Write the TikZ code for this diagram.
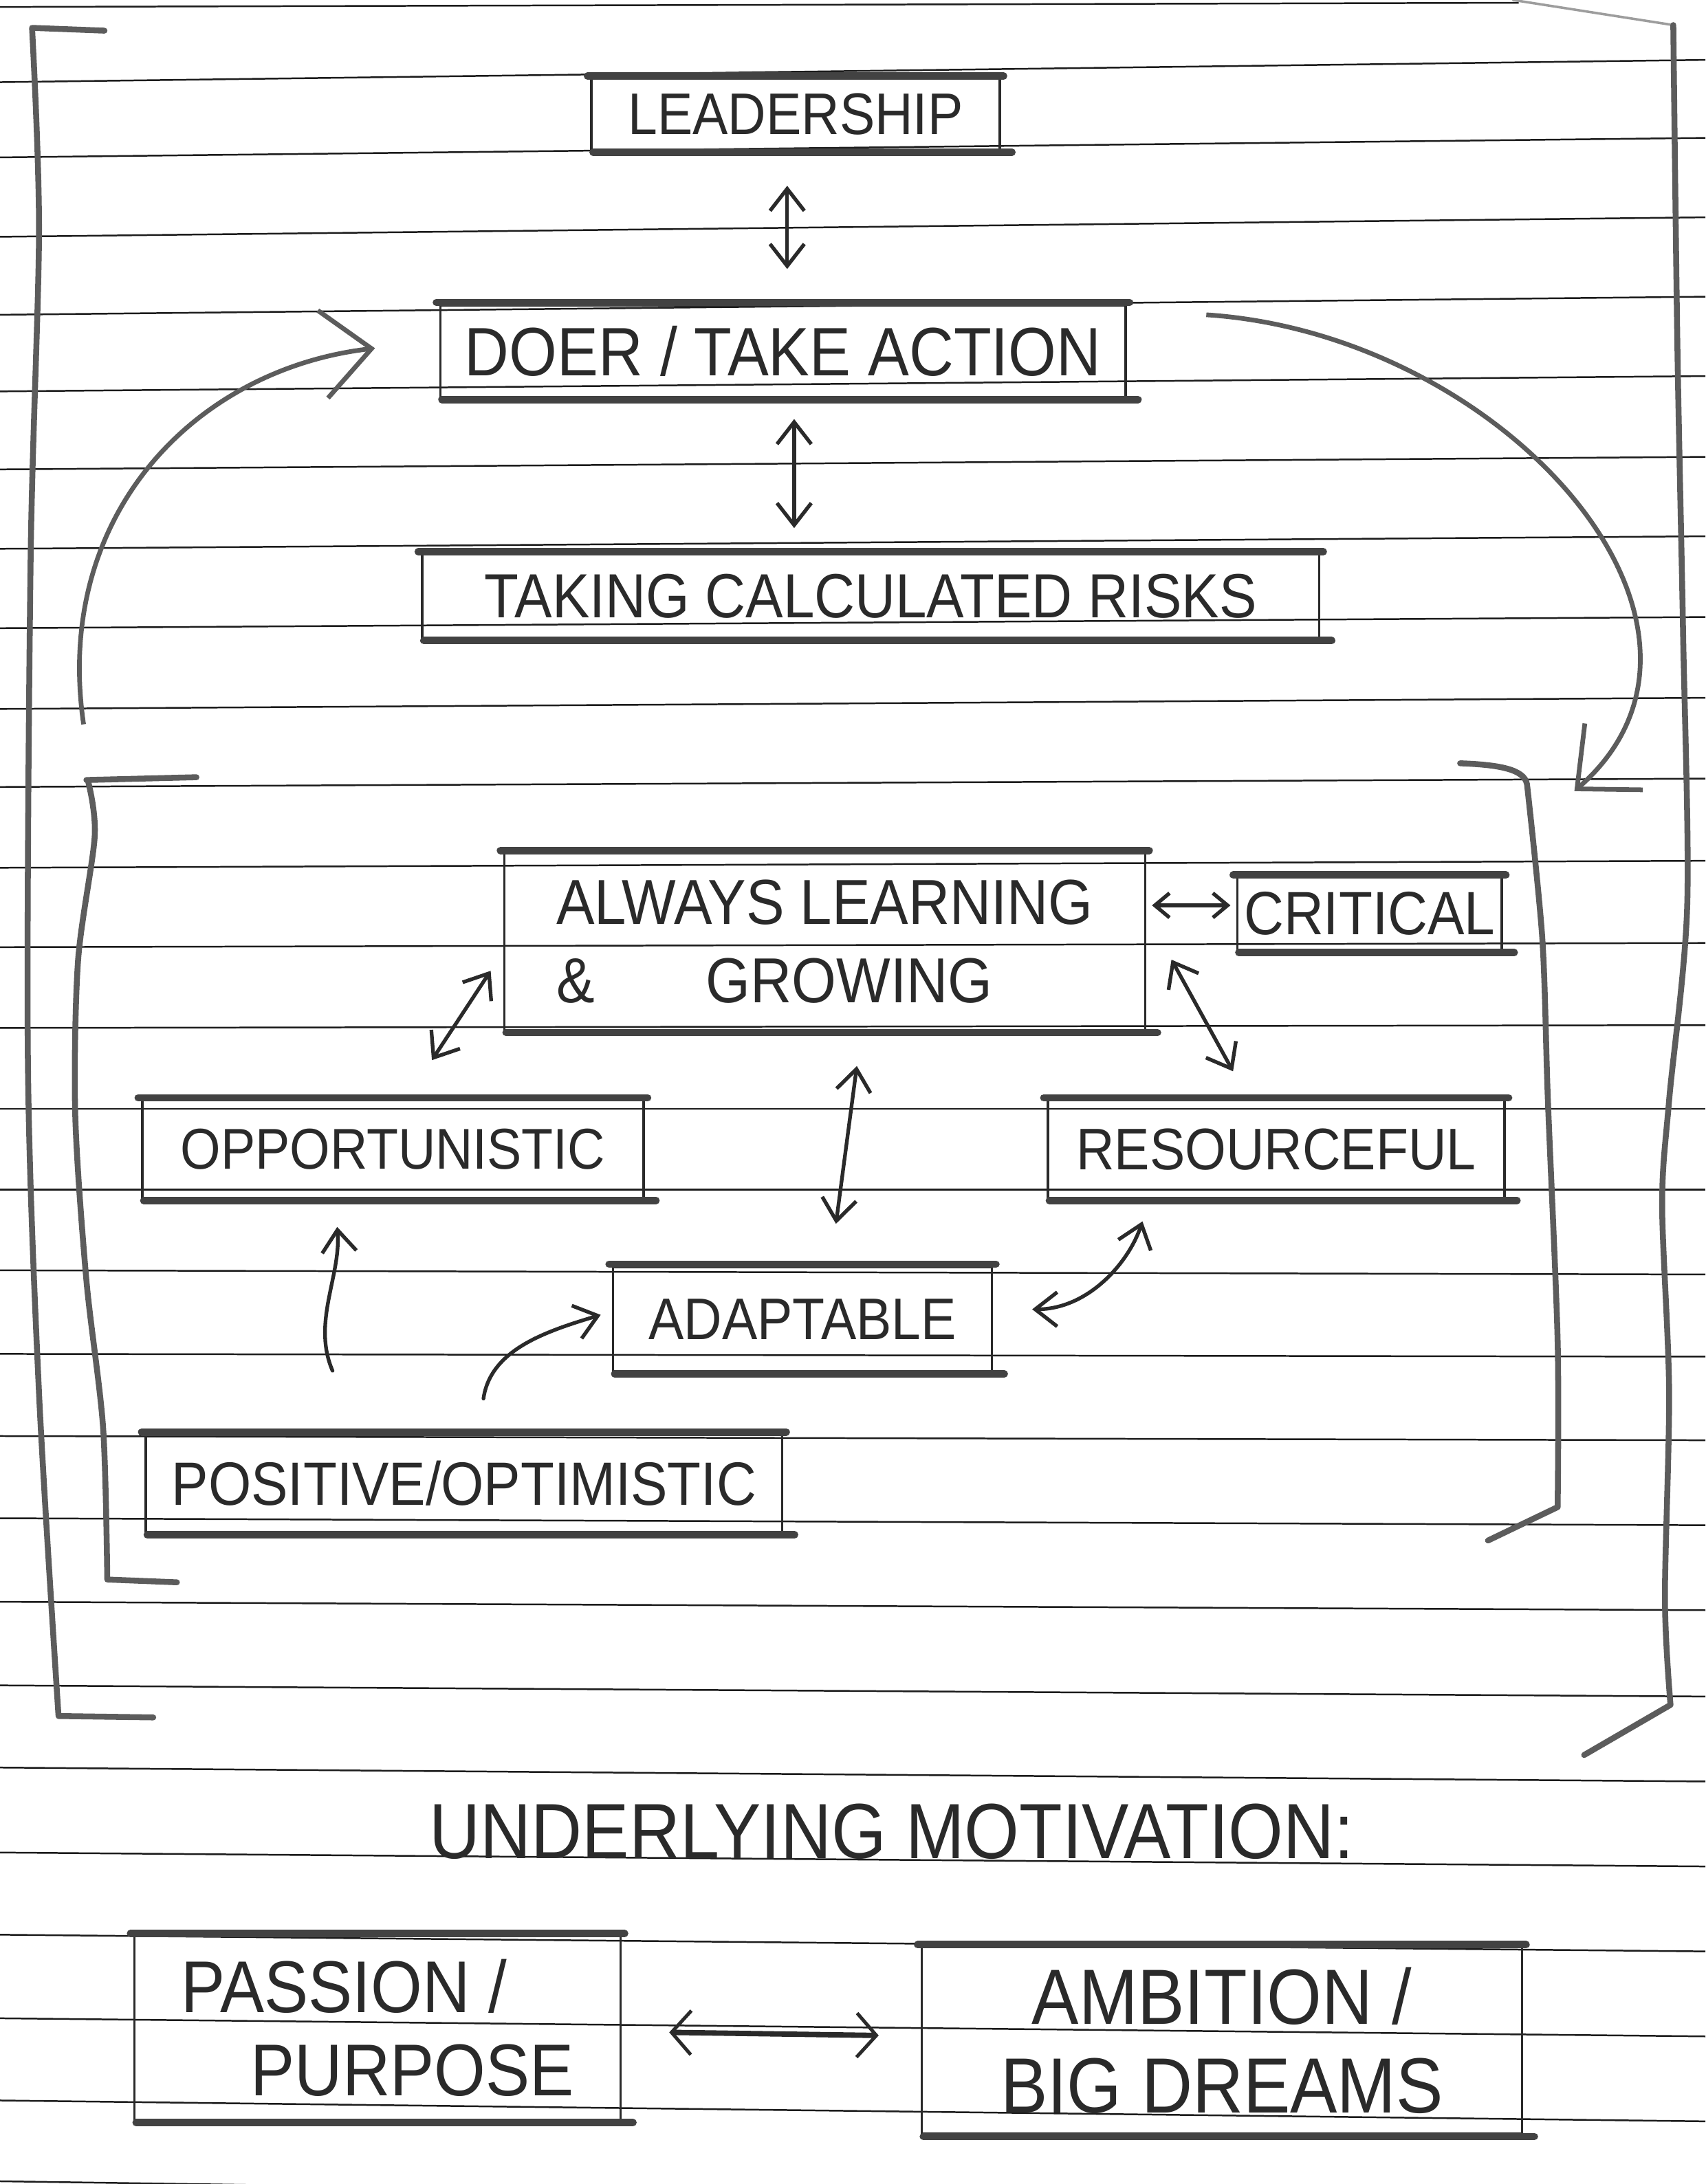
\documentclass[tikz,border=0pt]{standalone}
\usepackage{fontspec}
\setmainfont{Liberation Sans}[FakeStretch=0.9]
\usetikzlibrary{arrows.meta,calc}
\definecolor{ink}{HTML}{2A2A2A}
\definecolor{marker}{HTML}{424242}
\definecolor{pencil}{HTML}{5C5C5C}
\definecolor{rulecol}{HTML}{1C1C1C}
\newcommand{\handsize}[2]{\fontsize{#1}{#2}\selectfont}
\tikzset{
  ruling/.style={draw=rulecol, line width=0.7pt},
  card/.style={draw=ink, line width=1pt, text=ink, inner sep=0pt},
  thickedge/.style={draw=marker, line width=3pt, line cap=round},
  bracket/.style={draw=pencil, line width=2.4pt, line cap=round, line join=round},
  link/.style={draw=ink, line width=1.5pt, line cap=round},
  bigtip/.style={draw=pencil, line width=1.9pt, -{Straight Barb[length=20pt,width=36pt]}},
  smalltip/.style={{Straight Barb[length=6pt,width=10pt]}-{Straight Barb[length=6pt,width=10pt]}}
}
\begin{document}
\begin{tikzpicture}[x=0.02cm, y=-0.02cm, >={Straight Barb[length=9pt,width=14pt]}]
        \fill[white] (0,0) rectangle (1224,1568);
        \useasboundingbox (0,0) rectangle (1224,1568);
        % ruled paper
        \draw[ruling] (0,5) -- (1090,2);
        \foreach \yl/\yr in {59/43, 113/99, 170/156, 226/213, 281/270, 337/328, 394/385, 451/443,
            509/501, 565/559, 623/618, 680/677, 738/736, 796/796, 854/854, 912/915, 972/974,
            1031/1034, 1090/1095, 1150/1156, 1210/1218, 1269/1279, 1330/1340, 1389/1401,
            1449/1462, 1508/1523, 1566/1584}
            \draw[ruling] (0,\yl) -- (1224,\yr);

        % brackets
        \draw[bracket] (75,22) -- (23,20) -- plot[smooth] coordinates {(23,20) (28,166) (22,400) (20,760) (28,1000) (42,1232)} -- (110,1233);
        \draw[bracket, line width=1pt, draw=pencil!60] (1086,0) -- (1201,18);
        \draw[bracket] plot[smooth] coordinates {(1201,18) (1204,252) (1208,453) (1211,650) (1198,790) (1193,865) (1198,999) (1195,1148) (1199,1224)} -- (1137,1260);
        \draw[bracket] (141,558) -- (62,560) -- plot[smooth] coordinates {(63,560) (68,600) (56,690) (54,800) (62,919) (74,1025) (77,1134)} -- (127,1136);
        \draw[bracket] (1048,548) .. controls (1075,549) and (1094,552) .. (1096,563) -- plot[smooth] coordinates {(1096,563) (1107,674) (1111,790) (1118,963) (1118,1082)} -- (1068,1106);

        % boxes
        \node[card, minimum width=5.86cm, minimum height=1.02cm, font=\handsize{24}{29}] (lead) at (571,82) {LEADERSHIP};
        \node[card, minimum width=9.84cm, minimum height=1.32cm, font=\handsize{28}{34}] (doer) at (562,252) {DOER / TAKE ACTION};
        \node[card, minimum width=12.88cm, minimum height=1.2cm, font=\handsize{25.5}{30}] (risk) at (625,428) {TAKING CALCULATED RISKS};
        \node[card, minimum width=9.2cm, minimum height=2.54cm, align=left, font=\handsize{26}{32}] (always) at (592,676) {ALWAYS LEARNING\\\&\hspace{1.6cm}GROWING};
        \node[card, minimum width=3.8cm, minimum height=1.04cm, font=\handsize{25}{30}] (crit) at (983,656) {CRITICAL};
        \node[card, minimum width=7.2cm, minimum height=1.4cm, font=\handsize{23.5}{28}] (opp) at (282,825) {OPPORTUNISTIC};
        \node[card, minimum width=6.56cm, minimum height=1.4cm, font=\handsize{24}{29}] (res) at (916,825) {RESOURCEFUL};
        \node[card, minimum width=5.44cm, minimum height=1.5cm, font=\handsize{24}{29}] (adapt) at (576,947) {ADAPTABLE};
        \node[card, minimum width=9.14cm, minimum height=1.4cm, font=\handsize{25}{30}] (pos) at (333,1065) {POSITIVE/OPTIMISTIC};
        \node[text=ink, font=\handsize{32}{38}] (under) at (640,1315) {UNDERLYING MOTIVATION:};
        \node[card, minimum width=6.98cm, minimum height=2.64cm, align=left, font=\handsize{30}{34}] (pass) at (271,1456) {PASSION /\\\hspace{1cm}PURPOSE};
        \node[card, minimum width=8.62cm, minimum height=2.68cm, align=center, font=\handsize{32}{36}] (amb) at (877,1465) {AMBITION /\\BIG DREAMS};
        \foreach \n in {lead,doer,risk,always,crit,opp,res,adapt,pos,pass,amb} {
            \draw[thickedge] ($(\n.north west)+(-2,-1)$) -- ($(\n.north east)+(2,-1)$);
            \draw[thickedge] ($(\n.south west)+(2,1)$) -- ($(\n.south east)+(8,1)$);
        }

        % connectors
        \draw[link,<->] ($(lead.south)+(-6,25)$) -- ($(lead.south |- doer.north)+(-6,-25)$);
        \draw[link,<->] ($(doer.south)+(8,15)$) -- ($(doer.south |- risk.north)+(8,-18)$);
        \coordinate (loopstart) at (60,520);
        \draw[bigtip] (loopstart) .. controls (38,370) and (140,265) .. ($(doer.west)+(-46,-2)$);
        \coordinate (loopout) at ($(doer.east)+(57,-26)$);
        \coordinate (loopin) at (1130,568);
        \draw[bigtip] (loopout) .. controls (1080,240) and (1265,450) .. (loopin);
        \draw[link,smalltip] ($(always.east |- crit.west)+(4,-6)$) -- ($(crit.west)+(-4,-6)$);
        \draw[link,<->] ($(always.west)+(-9,21)$) -- ($(opp.north)+(28,-28)$);
        \draw[link,<->] ($(always.east)+(18,13)$) -- ($(res.north)+(-31,-20)$);
        \draw[link,<->] ($(always.south)+(23,25)$) -- ($(adapt.north)+(24,-30)$);
        \draw[link,<->] ($(adapt.east)+(28,-7)$) .. controls +(40,0) and +(-10,30) .. ($(res.south)+(-96,16)$);
        \draw[link,->] ($(pos.north west)+(135,-45)$) .. controls +(-15,-35) and +(3,35) .. ($(opp.south)+(-40,20)$);
        \draw[link,->] ($(pos.north)+(14,-25)$) .. controls +(5,-35) and +(-40,12) .. ($(adapt.west)+(-8,-3)$);
        \draw[link,<->, line width=2.2pt, shorten <=0.68cm, shorten >=0.6cm, >={Straight Barb[length=8pt,width=18pt,line width=1.4pt]}] (pass) -- (amb);
    \end{tikzpicture}
\end{document}
